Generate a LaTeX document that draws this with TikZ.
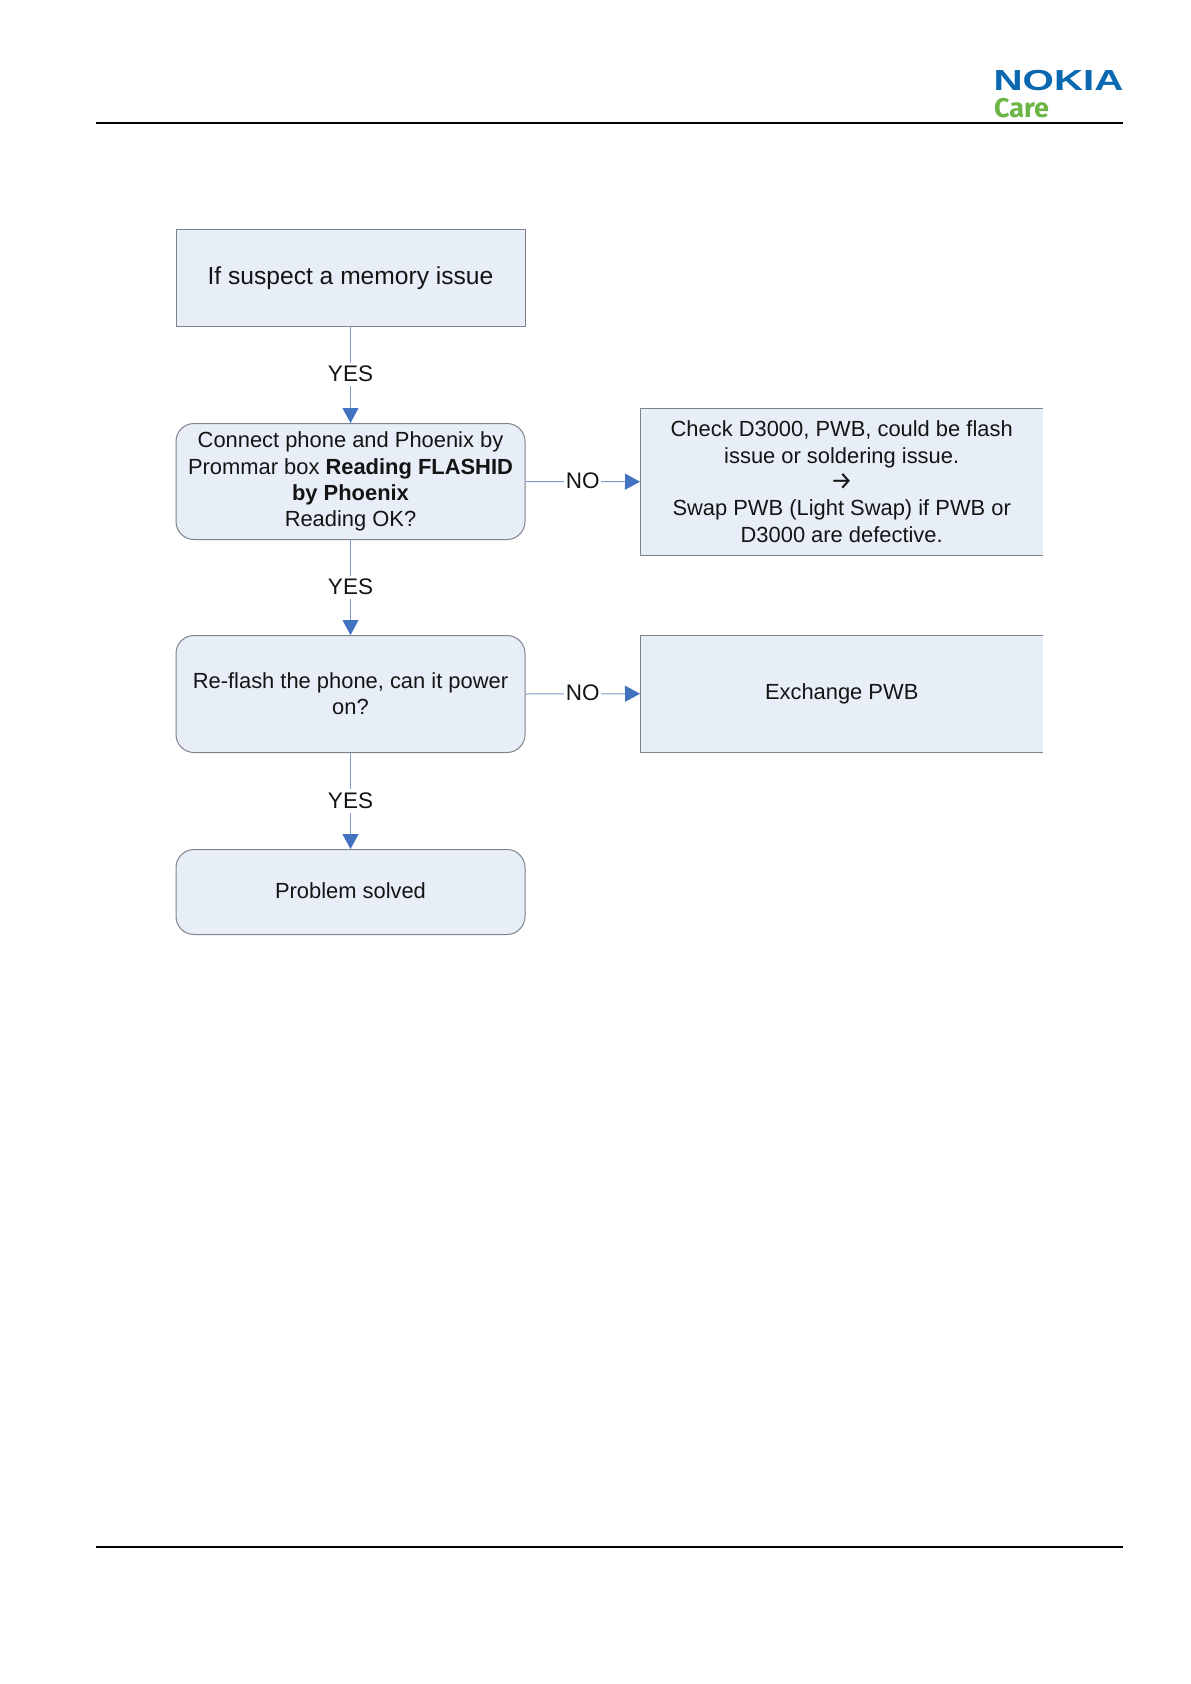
\documentclass[tikz,border=0pt]{standalone}
\usepackage{fontspec}
\setmainfont{Liberation Sans}
\newfontfamily\carefont{Fira Sans}
\usetikzlibrary{arrows.meta}
\definecolor{boxfill}{HTML}{E8EEF7}
\definecolor{boxline}{HTML}{7E838C}
\definecolor{connline}{HTML}{7C9CCB}
\definecolor{headblue}{HTML}{4273C0}
\definecolor{nokiablue}{HTML}{0A68B0}
\definecolor{caregreen}{HTML}{6DB544}
\definecolor{inktext}{HTML}{141414}
\newcommand{\txt}{\fontsize{21.9}{26.3}\selectfont}
\tikzset{
  x=1pt,y=-1pt,
  basebox/.style={inner sep=0pt,align=center,text=inktext,font=\txt,anchor=north west},
  rbox/.style={basebox,draw=boxline,line width=1pt,fill=boxfill,rounded corners=18pt,minimum width=349pt},
  sbox/.style={basebox,draw=boxline,line width=1pt,fill=boxfill,minimum width=349pt},
  rightbox/.style={basebox,fill=boxfill,minimum width=403pt},
  rule/.style={line width=1.6pt,black},
  conn/.style={draw=connline,line width=1pt,-{Triangle[length=15pt,width=16pt,fill=headblue,color=headblue]}},
  lab/.style={fill=white,inner xsep=1.5pt,inner ysep=3pt,text=inktext,font=\fontsize{22.5}{26}\selectfont},
  edgeline/.style={draw=boxline,line width=0.9pt}
}
\begin{document}
\begin{tikzpicture}
\useasboundingbox (0,0) rectangle (1191,1684);
\fill[white] (0,0) rectangle (1191,1684);
% header and footer
\coordinate (hl) at (96,122.7);
\coordinate (hr) at (1122.5,122.7);
\coordinate (fl) at (96,1547.2);
\coordinate (fr) at (1122.5,1547.2);
\draw[rule] (hl) -- (hr);
\draw[rule] (fl) -- (fr);
\node[anchor=center,inner sep=0pt,text=nokiablue,font=\fontsize{29}{29}\selectfont\bfseries,xscale=1.39] (nokia) at (1058.5,80.7) {NOKIA};
\node[anchor=center,inner sep=0pt,text=caregreen,font=\carefont\fontsize{27}{27}\selectfont\bfseries] (care) at (1021.5,108) {Care};
% boxes
\node[sbox,minimum height=96.5pt] (b1) at (175.5,229) {\raisebox{-3pt}{\fontsize{24.6}{28}\selectfont If suspect a memory issue}};
\node[rbox,minimum height=116pt] (b2) at (175.5,423) {Connect phone and Phoenix by\\Prommar box \textbf{Reading FLASHID}\\\textbf{by Phoenix}\\Reading OK?};
\node[rbox,minimum height=117pt] (b3) at (175.5,635) {Re-flash the phone, can it power\\on?};
\node[rbox,minimum height=85pt] (b4) at (175.5,849) {\raisebox{2pt}{Problem solved}};
\node[rightbox,minimum height=147pt] (r1) at (640,408) {Check D3000, PWB, could be flash\\issue or soldering issue.\\{\carefont\fontsize{25}{26.3}\selectfont →}\\Swap PWB (Light Swap) if PWB or\\D3000 are defective.};
\node[rightbox,minimum height=117pt] (r2) at (640,635) {\raisebox{-4pt}{Exchange PWB}};
\draw[edgeline] (r1.north east) -- (r1.north west) -- (r1.south west) -- (r1.south east);
\draw[edgeline] (r2.north east) -- (r2.north west) -- (r2.south west) -- (r2.south east);
% connectors
\draw[conn] (b1.south) -- node[lab] (y1) {\raisebox{1.5pt}{YES}} (b2.north);
\draw[conn] (b2.south) -- node[lab] (y2) {\raisebox{1.5pt}{YES}} (b3.north);
\draw[conn] (b3.south) -- node[lab] (y3) {\raisebox{1.5pt}{YES}} (b4.north);
\draw[conn] (b2.east) -- node[lab] (n1) {\raisebox{1.5pt}{NO}} (r1.west);
\draw[conn] (b3.east) -- node[lab] (n2) {\raisebox{1.5pt}{NO}} (r2.west);
\end{tikzpicture}
\end{document}
